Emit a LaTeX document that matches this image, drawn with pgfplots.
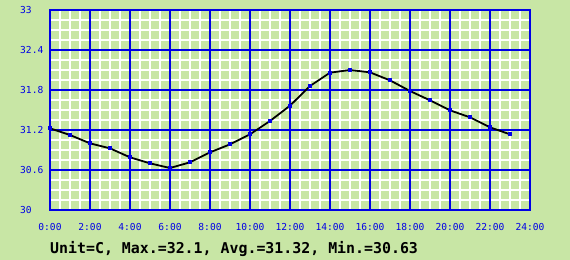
\documentclass[border=0pt]{standalone}
\usepackage{fontspec}
\usepackage{pgfplots}
\pgfplotsset{compat=1.18}
\newfontfamily\mono{DejaVu Sans Mono}
\definecolor{bggreen}{RGB}{200,230,165}
\definecolor{gridblue}{RGB}{0,0,230}
\pgfplotstableread{
h v
0 31.225
1 31.125
2 31.00
3 30.925
4 30.79
5 30.70
6 30.63
7 30.715
8 30.865
9 30.985
10 31.135
11 31.335
12 31.565
13 31.86
14 32.06
15 32.10
16 32.065
17 31.945
18 31.785
19 31.645
20 31.495
21 31.39
22 31.24
23 31.135
}\temps
\begin{document}
\begin{tikzpicture}
\useasboundingbox (-50bp,-50bp) rectangle (520bp,210bp);
\fill[bggreen] (-50bp,-50bp) rectangle (520bp,210bp);
\begin{axis}[
  at={(0,0)}, anchor=south west,
  scale only axis, width=480bp, height=200bp,
  xmin=0, xmax=24, ymin=30, ymax=33,
  xtick={0,2,...,24},
  xticklabels={0:00,2:00,4:00,6:00,8:00,10:00,12:00,14:00,16:00,18:00,20:00,22:00,24:00},
  ytick={30,30.6,31.2,31.8,32.4,33},
  yticklabels={30,30.6,31.2,31.8,32.4,33},
  minor x tick num=3, minor y tick num=3,
  major tick length=0pt, minor tick length=0pt,
  grid=minor,
  minor grid style={white, line width=1.1bp},
  axis line style={gridblue, line width=1.4bp},
  /pgf/number format/assume math mode=true,
  ticklabel style={font=\mono\fontsize{9.6bp}{11bp}\selectfont, text=gridblue, inner sep=0pt},
  xticklabel style={anchor=north, yshift=-13bp},
  yticklabel style={anchor=west, xshift=-30bp},
  axis background/.style={fill=bggreen},
  clip=false,
]
\pgfplotsinvokeforeach{2,4,...,22}{
  \draw[gridblue, line width=1.4bp] (axis cs:#1,30) -- (axis cs:#1,33);
}
\pgfplotsinvokeforeach{30.6,31.2,31.8,32.4}{
  \draw[gridblue, line width=1.4bp] (axis cs:0,#1) -- (axis cs:24,#1);
}
\addplot[black, line width=1.8bp, sharp plot, mark=square*, mark size=1.4bp,
  mark options={draw=gridblue, fill=gridblue, line width=0pt}] table[x=h, y=v] {\temps};
\end{axis}
\node[anchor=base west, inner sep=0pt, font=\mono\bfseries\fontsize{14.9bp}{17bp}\selectfont] at (0bp,-43bp) {Unit=C, Max.=32.1, Avg.=31.32, Min.=30.63};
\end{tikzpicture}
\end{document}
